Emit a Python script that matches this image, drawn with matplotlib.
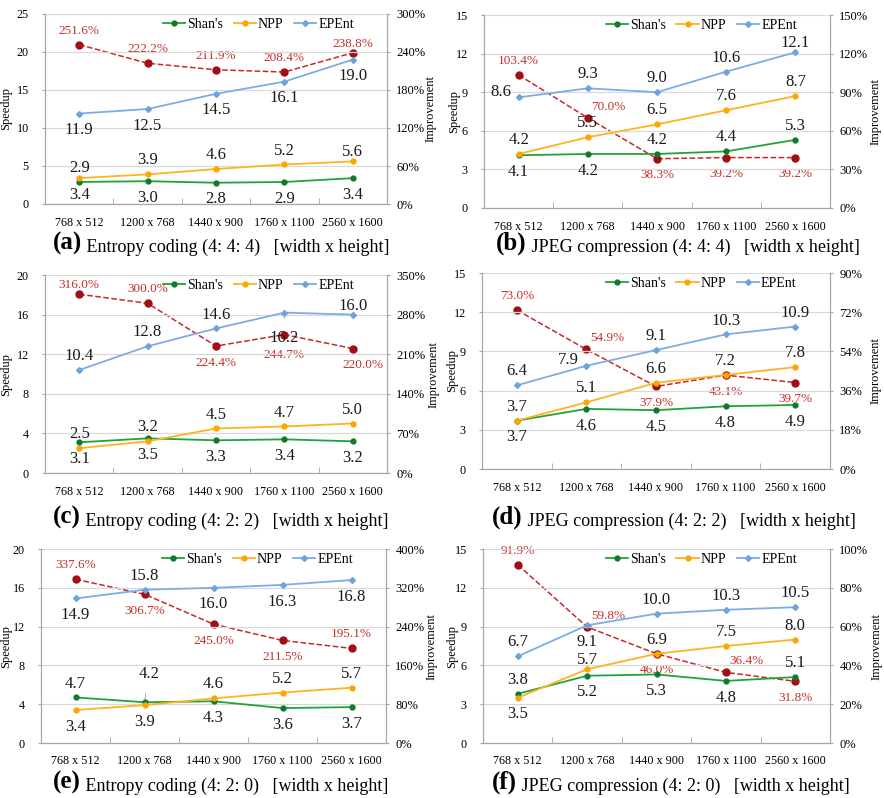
import matplotlib
matplotlib.use("Agg")
import matplotlib.pyplot as plt
from matplotlib.ticker import FuncFormatter, FixedLocator

plt.rcParams['font.family'] = ['Liberation Serif', 'DejaVu Serif']

resolutions = ["768 x 512", "1200 x 768", "1440 x 900", "1760 x 1100", "2560 x 1600"]
series_names = ["Shan's", "NPP", "EPEnt"]

# (a) Entropy coding 4:4:4
shan_a = [2.9, 3.0, 2.8, 2.9, 3.4]
npp_a = [3.4, 3.9, 4.6, 5.2, 5.6]
epent_a = [11.9, 12.5, 14.5, 16.1, 19.0]
imp_a = [251.6, 222.2, 211.9, 208.4, 238.8]

# (b) JPEG compression 4:4:4
shan_b = [4.1, 4.2, 4.2, 4.4, 5.3]
npp_b = [4.2, 5.5, 6.5, 7.6, 8.7]
epent_b = [8.6, 9.3, 9.0, 10.6, 12.1]
imp_b = [103.4, 70.0, 38.3, 39.2, 39.2]

# (c) Entropy coding 4:2:2
shan_c = [3.1, 3.5, 3.3, 3.4, 3.2]
npp_c = [2.5, 3.2, 4.5, 4.7, 5.0]
epent_c = [10.4, 12.8, 14.6, 16.2, 16.0]
imp_c = [316.0, 300.0, 224.4, 244.7, 220.0]

# (d) JPEG compression 4:2:2
shan_d = [3.7, 4.6, 4.5, 4.8, 4.9]
npp_d = [3.7, 5.1, 6.6, 7.2, 7.8]
epent_d = [6.4, 7.9, 9.1, 10.3, 10.9]
imp_d = [73.0, 54.9, 37.9, 43.1, 39.7]

# (e) Entropy coding 4:2:0
shan_e = [4.7, 4.2, 4.3, 3.6, 3.7]
npp_e = [3.4, 3.9, 4.6, 5.2, 5.7]
epent_e = [14.9, 15.8, 16.0, 16.3, 16.8]
imp_e = [337.6, 306.7, 245.0, 211.5, 195.1]

# (f) JPEG compression 4:2:0
shan_f = [3.8, 5.2, 5.3, 4.8, 5.1]
npp_f = [3.5, 5.7, 6.9, 7.5, 8.0]
epent_f = [6.7, 9.1, 10.0, 10.3, 10.5]
imp_f = [91.9, 59.8, 46.0, 36.4, 31.8]

letters = ["a", "b", "c", "d", "e", "f"]
captions = ["Entropy coding (4: 4: 4)   [width x height]",
            "JPEG compression (4: 4: 4)   [width x height]",
            "Entropy coding (4: 2: 2)   [width x height]",
            "JPEG compression (4: 2: 2)   [width x height]",
            "Entropy coding (4: 2: 0)   [width x height]",
            "JPEG compression (4: 2: 0)   [width x height]"]
speed_max = [25, 15, 20, 15, 20, 15]
speed_step = [5, 3, 4, 3, 4, 3]
imp_max = [300, 150, 350, 90, 400, 100]

# label placement per series (u=above, d=below, s=just above, l=left, r=upper right,
# U/D=far, m=a bit lower than d)
place = {
    "a": ["udddd", "duuus", "ddddd", "uuuus"],
    "b": ["dduuu", "uuuuu", "luuus", "urddd"],
    "c": ["ddddd", "uuuuu", "uuuDs", "sudme"],
    "d": ["ddddd", "uuuuu", "uluuu", "urddd"],
    "e": ["uUddd", "dduuu", "duddd", "udddu"],
    "f": ["udddu", "dsuuu", "uduuu", "urdrd"],
}
offsets = {"u": (0, 10), "s": (0, 6.5), "d": (0, -12), "m": (0, -15), "U": (3, 20),
           "D": (0, -18), "l": (-13, 4), "r": (15, 8), "e": (7, -12)}

# pixel rectangles (x0, y0, x1, y1) in an 884x798 canvas
rects = [(45, 14, 387, 204), (484, 15, 830, 208),
         (45, 275, 387, 473), (482, 273, 830, 469),
         (41, 549, 386, 743), (483, 549, 830, 743)]
caption_pos = [(53, 243), (496, 243), (53, 517), (492, 517), (53, 782), (492, 782)]
# outer edge of the rotated y labels (left label: right edge, right label: left edge)
ylabel_px = [(12, 425), (460, 870), (12, 428), (458, 870), (12, 426), (458, 871)]

data = {
    "a": (shan_a, npp_a, epent_a, imp_a),
    "b": (shan_b, npp_b, epent_b, imp_b),
    "c": (shan_c, npp_c, epent_c, imp_c),
    "d": (shan_d, npp_d, epent_d, imp_d),
    "e": (shan_e, npp_e, epent_e, imp_e),
    "f": (shan_f, npp_f, epent_f, imp_f),
}

W, H = 884, 798
fig = plt.figure(figsize=(W / 100, H / 100), dpi=100)

line_col = ["#20A33A", "#FFB320", "#7CADE3"]
mark_col = ["#0E7A2C", "#FFA500", "#6FA3DD"]
markers = ["o", "o", "D"]
red_line = "#C8282D"
red_dot = "#A00F14"
red_txt = "#C4302B"
grey = "#A6A6A6"

x = list(range(len(resolutions)))


def label(axis, xv, yv, text, code, size, color):
    dx, dy = offsets[code]
    arrow = None
    if code in "UD":
        arrow = dict(arrowstyle="-", color="#999999", lw=0.6, shrinkA=6, shrinkB=2)
    axis.annotate(text, (xv, yv), xytext=(dx, dy), textcoords="offset points",
                  ha="center", va="center", fontsize=size, color=color, arrowprops=arrow)


for i, key in enumerate(letters):
    x0, y0, x1, y1 = rects[i]
    ax = fig.add_axes([x0 / W, 1 - y1 / H, (x1 - x0) / W, (y1 - y0) / H])
    ax2 = ax.twinx()
    ax.set_zorder(ax2.get_zorder() + 1)
    ax.patch.set_visible(False)

    shan, npp, epent, imp = data[key]
    plc = place[key]

    ax2.plot(x, imp, color=red_line, ls="--", lw=1.1, marker="o", ms=5,
             mfc=red_dot, mec=red_dot, zorder=2)
    for j, v in enumerate(imp):
        label(ax2, x[j], v, f"{v:.1f}%", plc[3][j], 9.5, red_txt)

    for k, ys in enumerate([shan, npp, epent]):
        ax.plot(x, ys, color=line_col[k], lw=1.3, marker=markers[k],
                ms=3.5 if k < 2 else 3, mfc=mark_col[k], mec=mark_col[k],
                label=series_names[k], zorder=3)
        for j, v in enumerate(ys):
            label(ax, x[j], v, f"{v:.1f}", plc[k][j], 12, "#1a1a1a")

    ax.set_xlim(-0.5, len(resolutions) - 0.5)
    ax.set_ylim(0, speed_max[i])
    ax.set_yticks(range(0, speed_max[i] + 1, speed_step[i]))
    ax2.set_ylim(0, imp_max[i])
    ax2.set_yticks([imp_max[i] * t / 5 for t in range(6)])
    ax2.yaxis.set_major_formatter(FuncFormatter(lambda v, p: f"{v:.0f}%"))

    ax.set_xticks(x)
    ax.set_xticklabels(resolutions, fontsize=8.7)
    ax.xaxis.set_minor_locator(FixedLocator([0.5, 1.5, 2.5, 3.5]))
    ax.tick_params(axis="x", which="major", length=0, pad=9)
    ax.tick_params(axis="x", which="minor", length=4, direction="in", color=grey)
    ax.tick_params(axis="y", length=2.2, color=grey, labelsize=8.7, pad=9.5)
    ax2.tick_params(axis="y", length=2.2, color=grey, labelsize=9, pad=4.5)

    ax.grid(axis="y", color="#D9D9D9", lw=0.9)
    ax.set_axisbelow(True)
    for a in (ax, ax2):
        a.spines["top"].set_visible(False)
        for s in ("left", "right", "bottom"):
            a.spines[s].set_color(grey)
    ax.set_ylabel("Speedup", fontsize=9)
    ax2.set_ylabel("Improvement", fontsize=9)
    lx, rx = ylabel_px[i]
    ax.yaxis.set_label_coords((lx - x0) / (x1 - x0), 0.5)
    ax2.yaxis.set_label_coords((rx - x0) / (x1 - x0), 0.5)

    ax.legend(loc="upper right", bbox_to_anchor=(0.94, 1.045), ncol=3, frameon=False,
              fontsize=10, handlelength=1.6, columnspacing=0.75, handletextpad=0.15)

    cx, cy = caption_pos[i]
    t1 = fig.text(cx / W, 1 - cy / H, f"({key})", fontsize=18, fontweight="bold",
                  ha="left", va="center")
    plt.annotate(" " + captions[i], xy=(1, 0.3), xycoords=t1, fontsize=13,
                 ha="left", va="center", annotation_clip=False)

fig.savefig("out.png", dpi=100)
